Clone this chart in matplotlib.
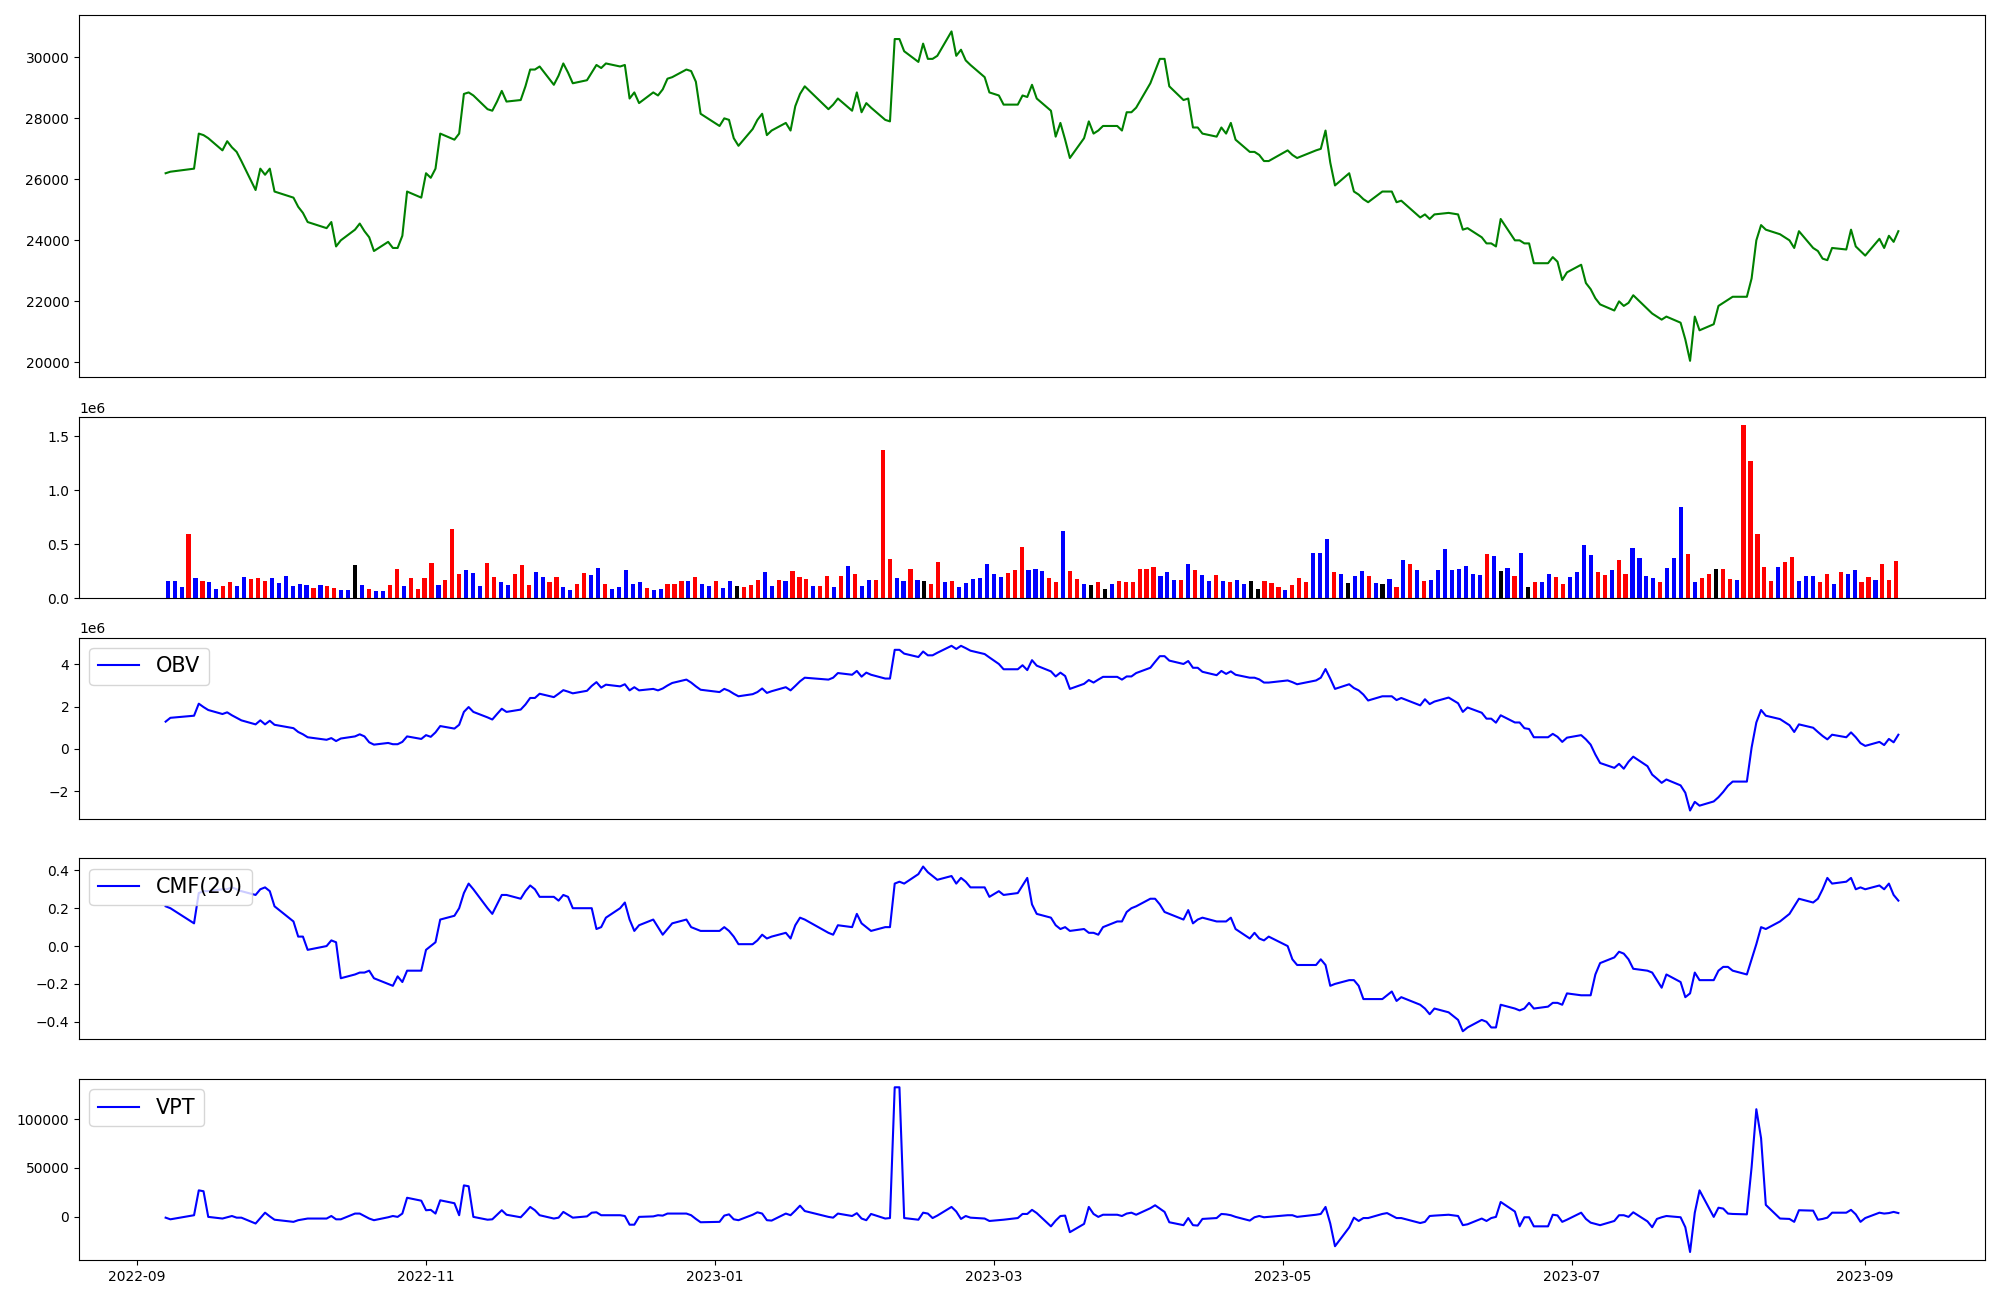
import numpy as np
import pandas as pd
import matplotlib
matplotlib.use("Agg")
import matplotlib.pyplot as plt

# KRX trading days, 2022-09-07 .. 2023-09-08
holidays = ['2022-09-09', '2022-09-12', '2022-10-03', '2022-10-10', '2022-12-30',
            '2023-01-23', '2023-01-24', '2023-03-01', '2023-05-01', '2023-05-05',
            '2023-05-29', '2023-06-06', '2023-08-15']
dates = pd.bdate_range('2022-09-07', '2023-09-08', freq='C', holidays=holidays)

close = [
    26200, 26250, 26350, 27500, 27450, 27350, 26950, 27250, 27050, 26900, 26600, 25650, 26350, 26150, 26350, 25600,
    25400, 25100, 24900, 24600, 24400, 24600, 23800, 24000, 24350, 24550, 24300, 24100, 23650, 23950, 23750, 23750, 24150, 25600, 25400,
    26200, 26050, 26350, 27500, 27300, 27500, 28800, 28850, 28750, 28300, 28250, 28550, 28900, 28550, 28600, 29050, 29600, 29600, 29700, 29100, 29400, 29800,
    29500, 29150, 29250, 29500, 29750, 29650, 29800, 29700, 29750, 28650, 28850, 28500, 28850, 28750, 28950, 29300, 29350, 29600, 29550, 29200, 28150,
    27750, 28000, 27950, 27350, 27100, 27650, 27950, 28150, 27450, 27600, 27850, 27600, 28400, 28800, 29050, 28300, 28450, 28650, 28250, 28850,
    28200, 28500, 28350, 27950, 27900, 30600, 30600, 30200, 29850, 30450, 29950, 29950, 30050, 30850, 30050, 30250, 29900, 29750, 29350, 28850,
    28750, 28450, 28450, 28750, 28700, 29100, 28650, 28250, 27400, 27850, 27300, 26700, 27350, 27900, 27500, 27600, 27750, 27750, 27600, 28200, 28200, 28350,
    29150, 29550, 29950, 29950, 29050, 28600, 28650, 27700, 27700, 27500, 27400, 27700, 27500, 27850, 27300, 26900, 26900, 26800, 26600, 26600,
    26950, 26800, 26700, 26950, 27000, 27600, 26550, 25800, 26200, 25600, 25500, 25350, 25250, 25600, 25600, 25600, 25250, 25300, 24750, 24850,
    24700, 24850, 24900, 24850, 24350, 24400, 24100, 23900, 23900, 23800, 24700, 24000, 24000, 23900, 23900, 23250, 23250, 23450, 23300, 22700, 22950,
    23200, 22600, 22400, 22100, 21900, 21700, 22000, 21850, 21950, 22200, 21750, 21600, 21500, 21400, 21500, 21300, 20750, 20050, 21500, 21050, 21250,
    21850, 21950, 22050, 22150, 22150, 22750, 24000, 24500, 24350, 24200, 24000, 23750, 24300, 23750, 23650, 23400, 23350, 23750, 23700, 24350, 23800, 23650,
    23500, 24050, 23750, 24150, 23950, 24300,
]

# volume in thousands of shares
volume_k = [
    159, 159, 102, 593, 187, 159, 152, 85, 113, 152,
    113, 198, 177, 187, 159, 187, 141, 205, 113, 131,
    124, 95, 124, 113, 95, 78, 78, 307, 124, 85,
    67, 67, 124, 272, 113, 187, 85, 187, 325, 124,
    169, 639, 222, 261, 233, 113, 325, 198, 152, 124,
    222, 307, 124, 244, 198, 152, 198, 102, 78, 131,
    233, 215, 279, 131, 85, 102, 261, 131, 152, 95,
    78, 85, 131, 131, 159, 159, 198, 131, 113, 159,
    95, 159, 113, 102, 124, 169, 244, 113, 169, 159,
    251, 198, 177, 113, 113, 205, 102, 205, 297, 222,
    113, 169, 169, 1370, 364, 187, 159, 272, 169, 159,
    131, 335, 152, 159, 102, 141, 177, 187, 318, 222,
    198, 233, 261, 473, 261, 272, 251, 187, 152, 621,
    251, 177, 131, 124, 152, 85, 131, 159, 152, 152,
    272, 272, 290, 205, 244, 169, 169, 318, 261, 215,
    159, 215, 159, 152, 169, 131, 159, 85, 159, 141,
    102, 78, 124, 187, 152, 417, 417, 547, 244, 222,
    141, 205, 251, 205, 141, 131, 177, 102, 353, 318,
    261, 159, 169, 261, 456, 261, 272, 297, 222, 215,
    410, 392, 251, 279, 205, 417, 102, 152, 152, 222,
    198, 131, 198, 244, 491, 399, 244, 215, 261, 353,
    222, 463, 371, 205, 187, 152, 279, 371, 844, 410,
    152, 187, 222, 272, 272, 177, 169, 1600, 1268, 593,
    290, 159, 290, 335, 381, 159, 205, 205, 152, 222,
    131, 244, 222, 261, 152, 198, 169, 318, 169, 343,
]

# r = up day, b = down day, k = unchanged
bar_codes = ("bbbrbrbbrr" "bbrrrbbbbb" "brbrrbbkbr" "bbrrbrrrrb" "rrrbbbrrbb"
             "rrrbbrrbbr" "rbbrbbbbbr" "bbrrrbrbbr" "bbkrrrbbrb" "rrrbrrbrbr"
             "bbrrrbbrbk" "rrbrbbbbbb" "brrrbbbrrb" "rrbkrkbrrr" "rrrbbbrbrb"
             "brbrbbkkrr" "rbrrrbbbrb" "kbbrbkbrbr" "brbbbbbbbb" "rbkbrbkrbb"
             "rrbbbbrrbr" "rbbbbrbbbr" "brrkrrbrrr" "rrbrrbbbrr" "brbbrrbrrr")

# OBV in millions
obv_m = [
    1.29, 1.47, 1.57, 2.14, 1.98, 1.84, 1.65, 1.73, 1.59, 1.47, 1.35, 1.16, 1.35, 1.16, 1.33, 1.14,
    0.98, 0.80, 0.69, 0.55, 0.43, 0.51, 0.37, 0.49, 0.59, 0.69, 0.59, 0.31, 0.20, 0.28, 0.22, 0.22, 0.33, 0.59, 0.47,
    0.65, 0.57, 0.78, 1.08, 0.96, 1.14, 1.75, 1.98, 1.75, 1.49, 1.39, 1.65, 1.90, 1.75, 1.86, 2.10, 2.41, 2.41, 2.61, 2.45, 2.61, 2.78,
    2.71, 2.63, 2.75, 2.98, 3.16, 2.90, 3.04, 2.96, 3.06, 2.77, 2.92, 2.77, 2.84, 2.77, 2.86, 3.00, 3.12, 3.28, 3.14, 2.96, 2.80,
    2.69, 2.84, 2.75, 2.61, 2.49, 2.59, 2.69, 2.86, 2.65, 2.73, 2.92, 2.77, 2.98, 3.20, 3.37, 3.28, 3.37, 3.59, 3.51, 3.69,
    3.42, 3.61, 3.51, 3.33, 3.33, 4.69, 4.69, 4.51, 4.35, 4.61, 4.43, 4.43, 4.55, 4.88, 4.73, 4.88, 4.77, 4.65, 4.49, 4.33,
    4.02, 3.77, 3.77, 3.96, 3.73, 4.20, 3.94, 3.67, 3.43, 3.61, 3.45, 2.84, 3.08, 3.26, 3.14, 3.28, 3.41, 3.41, 3.28, 3.43, 3.43, 3.59,
    3.84, 4.12, 4.39, 4.39, 4.18, 4.02, 4.16, 3.84, 3.84, 3.65, 3.49, 3.69, 3.55, 3.67, 3.51, 3.37, 3.37, 3.29, 3.14, 3.14,
    3.24, 3.16, 3.06, 3.24, 3.37, 3.78, 3.33, 2.84, 3.06, 2.88, 2.77, 2.57, 2.29, 2.49, 2.49, 2.49, 2.31, 2.41, 2.06, 2.35,
    2.12, 2.24, 2.43, 2.16, 1.75, 1.96, 1.71, 1.43, 1.43, 1.24, 1.59, 1.25, 1.25, 0.98, 0.94, 0.55, 0.55, 0.71, 0.57, 0.33, 0.53,
    0.65, 0.45, 0.20, -0.27, -0.67, -0.90, -0.71, -0.94, -0.61, -0.37, -0.82, -1.22, -1.41, -1.61, -1.45, -1.73, -2.08, -2.92, -2.51, -2.69, -2.49,
    -2.29, -2.04, -1.75, -1.55, -1.55, 0.06, 1.25, 1.84, 1.57, 1.41, 1.12, 0.80, 1.16, 1.00, 0.80, 0.61, 0.45, 0.67, 0.55, 0.78, 0.55, 0.27,
    0.14, 0.33, 0.18, 0.47, 0.31, 0.67,
]

cmf20 = [
    0.21, 0.20, 0.12, 0.28, 0.29, 0.29, 0.30, 0.30, 0.31, 0.30, 0.29, 0.27, 0.30, 0.31, 0.29, 0.21,
    0.13, 0.05, 0.05, -0.02, 0.00, 0.03, 0.02, -0.17, -0.15, -0.14, -0.14, -0.13, -0.17, -0.20, -0.21, -0.16, -0.19, -0.13, -0.13,
    -0.02, 0.00, 0.02, 0.14, 0.16, 0.20, 0.28, 0.33, 0.30, 0.20, 0.17, 0.22, 0.27, 0.27, 0.25, 0.29, 0.32, 0.30, 0.26, 0.26, 0.24, 0.27,
    0.26, 0.20, 0.20, 0.20, 0.09, 0.10, 0.15, 0.20, 0.23, 0.14, 0.08, 0.11, 0.14, 0.10, 0.06, 0.09, 0.12, 0.14, 0.10, 0.09, 0.08,
    0.08, 0.10, 0.08, 0.05, 0.01, 0.01, 0.03, 0.06, 0.04, 0.05, 0.07, 0.04, 0.11, 0.15, 0.14, 0.07, 0.06, 0.11, 0.10, 0.17,
    0.12, 0.10, 0.08, 0.10, 0.10, 0.33, 0.34, 0.33, 0.38, 0.42, 0.39, 0.37, 0.35, 0.37, 0.33, 0.36, 0.34, 0.31, 0.31, 0.26,
    0.29, 0.27, 0.28, 0.32, 0.36, 0.22, 0.17, 0.15, 0.11, 0.09, 0.10, 0.08, 0.09, 0.07, 0.07, 0.06, 0.10, 0.13, 0.13, 0.18, 0.20, 0.21,
    0.25, 0.25, 0.22, 0.18, 0.17, 0.14, 0.19, 0.12, 0.14, 0.15, 0.13, 0.13, 0.13, 0.15, 0.09, 0.04, 0.07, 0.04, 0.03, 0.05,
    0.00, -0.07, -0.10, -0.10, -0.07, -0.10, -0.21, -0.20, -0.18, -0.18, -0.21, -0.28, -0.28, -0.28, -0.26, -0.24, -0.29, -0.27, -0.31, -0.33,
    -0.36, -0.33, -0.35, -0.39, -0.45, -0.43, -0.39, -0.40, -0.43, -0.43, -0.31, -0.33, -0.34, -0.33, -0.30, -0.33, -0.32, -0.30, -0.30, -0.31, -0.25,
    -0.26, -0.26, -0.26, -0.15, -0.09, -0.06, -0.03, -0.04, -0.07, -0.12, -0.13, -0.14, -0.18, -0.22, -0.15, -0.19, -0.27, -0.25, -0.14, -0.18, -0.18,
    -0.13, -0.11, -0.11, -0.13, -0.15, -0.07, 0.01, 0.10, 0.09, 0.13, 0.17, 0.21, 0.25, 0.23, 0.25, 0.30, 0.36, 0.33, 0.34, 0.36, 0.30, 0.31,
    0.30, 0.32, 0.30, 0.33, 0.27, 0.24,
]

vpt = [
    -1000, -2700, 1500, 27000, 26100, -200, -1900, -600, 700, -1000, -1000, -7000, -1400, 4100, 300, -3100,
    -5300, -3600, -2700, -1900, -1900, 700, -2700, -2700, 3200, 3200, 700, -1900, -3600, -600, 700, -200, 3200, 19400, 16400,
    6600, 7000, 3200, 16800, 13800, 1500, 32100, 31200, -200, -3100, -2700, 2000, 6600, 2000, -600, 4500, 10000, 6600, 1500, -1900, -1000, 4900,
    2000, -1000, 300, 4100, 4500, 1500, 1500, 1500, 700, -8200, -8200, -200, 300, 1500, 1100, 3200, 3200, 3200, 1500, -2300, -5700,
    -5300, 1100, 2400, -2700, -3600, 2000, 4500, 3200, -3600, -4000, 3200, 1500, 6200, 11300, 5800, -200, -1000, 3200, 700, 3600,
    -1900, -3600, 2800, -1900, -1400, 132700, 132700, -1400, -3100, 4100, 3200, -1400, 1100, 10000, 5300, -2300, 700, -1000, -1900, -4400,
    -3600, -3100, -1400, 2800, 2800, 7000, 3700, -9900, -4000, 700, 1100, -15900, -7400, 10000, 2800, -200, 2000, 2000, 700, 3200, 4100, 2000,
    8700, 11700, 8300, 4900, -5700, -8700, -1400, -8700, -9100, -2300, -1400, 2800, 2400, 1500, -200, -4000, -600, 700, -600, -200,
    1500, 1500, -200, 2000, 2800, 10000, -7000, -30300, -11000, -1000, -4400, -1400, -1400, 2800, 3700, 1100, -1400, -1400, -6500, -5300,
    700, 1100, 2000, 700, -8700, -7800, -1900, -4400, -1400, -200, 15100, 5300, -9900, -600, -600, -9900, -9900, 2000, 1300, -5300, -3100,
    4100, -2300, -6100, -7400, -8700, -4400, 1500, 1500, -200, 4500, -4800, -10800, -2300, -600, 700, -600, -10800, -36200, 4100, 27000, -200,
    9200, 8300, 3200, 2800, 2400, 50800, 110200, 80500, 12100, -1900, -2300, -5300, 6600, 6200, -3100, -2300, -1000, 4100, 4100, 7000, 2400, -5300,
    -1400, 4100, 3200, 3700, 4900, 3700,
]

n = len(dates)
assert n == len(close) == len(volume_k) == len(bar_codes) == len(obv_m) == len(cmf20) == len(vpt)

volume = np.array(volume_k) * 1000
obv = np.array(obv_m) * 1e6
code_color = {'r': 'red', 'b': 'blue', 'k': 'black'}
bar_colors = [code_color[c] for c in bar_codes]

fig = plt.figure(figsize=(20, 13), dpi=100)
gs = fig.add_gridspec(5, 1, height_ratios=[2, 1, 1, 1, 1],
                      left=0.0395, right=0.9925, top=0.9885, bottom=0.0306, hspace=0.182)
ax_vpt = fig.add_subplot(gs[4])
ax_price = fig.add_subplot(gs[0], sharex=ax_vpt)
ax_vol = fig.add_subplot(gs[1])
ax_obv = fig.add_subplot(gs[2], sharex=ax_vpt)
ax_cmf = fig.add_subplot(gs[3], sharex=ax_vpt)

ax_price.plot(dates, close, color='green')

ax_vol.bar(np.arange(n), volume, color=bar_colors, width=0.6)
ax_vol.set_xticks([])

ax_obv.plot(dates, obv, color='blue', label='OBV')
ax_cmf.plot(dates, cmf20, color='blue', label='CMF(20)')
ax_vpt.plot(dates, vpt, color='blue', label='VPT')

for ax in (ax_obv, ax_cmf, ax_vpt):
    ax.legend(loc='upper left', fontsize=15)

for ax in (ax_price, ax_obv, ax_cmf):
    ax.tick_params(axis='x', bottom=False, labelbottom=False)

fig.savefig('out.png', dpi=100)
